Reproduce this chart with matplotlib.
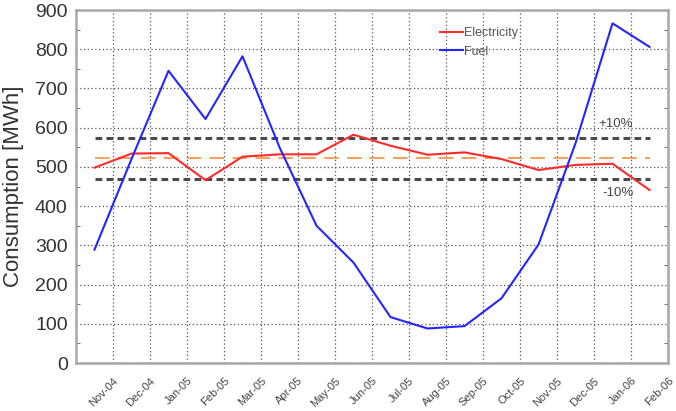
import numpy as np
import matplotlib
matplotlib.use("Agg")
import matplotlib.pyplot as plt
from matplotlib.ticker import MultipleLocator

plt.rcParams['font.family'] = ['Liberation Sans', 'DejaVu Sans']

months = ["Nov-04", "Dec-04", "Jan-05", "Feb-05", "Mar-05", "Apr-05", "May-05", "Jun-05",
          "Jul-05", "Aug-05", "Sep-05", "Oct-05", "Nov-05", "Dec-05", "Jan-06", "Feb-06"]
electricity = [498, 534, 535, 466, 526, 532, 532, 582, 554, 531, 537, 520, 492, 505, 508, 441]
fuel = [289, 520, 745, 622, 782, 550, 350, 256, 117, 88, 94, 165, 302, 560, 866, 806]
avg = 522  # mean line

x = np.arange(len(months))

fig = plt.figure(figsize=(6.76, 4.11), dpi=100)
ax = fig.add_axes([76/676, 1 - 363/411, 592/676, 353/411])

ax.plot(x, [avg * 1.1] * len(x), color="#4a4a4a", lw=2.2, ls=(0, (2.2, 1.4)))
ax.plot(x, [avg * 0.9] * len(x), color="#4a4a4a", lw=2.2, ls=(0, (2.2, 1.4)))
ax.plot(x, [avg] * len(x), color="#f4a262", lw=1.5, ls=(0, (7, 4)))
l1, = ax.plot(x, electricity, color="#ff2a2a", lw=1.5, label="Electricity")
l2, = ax.plot(x, fuel, color="#2525ff", lw=1.5, label="Fuel")

ax.text(14.08, 609, "+10%", fontsize=9.5, color="#444444", ha="center", va="center")
ax.text(14.16, 433, "-10%", fontsize=9.5, color="#444444", ha="center", va="center")

ax.set_xlim(-0.5, 15.5)
ax.set_ylim(0, 900)
ax.set_xticks(x + 0.5)
ax.set_xticklabels(months, rotation=45, ha="right", va="top", rotation_mode="anchor",
                   fontsize=8, color="#444444")
ax.yaxis.set_major_locator(MultipleLocator(100))
ax.yaxis.set_minor_locator(MultipleLocator(50))
ax.tick_params(axis="x", length=0, pad=9)
ax.tick_params(axis="y", which="major", length=0, labelsize=14, labelcolor="#333333", pad=6)
ax.tick_params(axis="y", which="minor", length=3, direction="in", left=True, right=True,
               color="#555555")
ax.grid(True, which="major", color="#555555", ls=(0, (1, 2)), lw=0.9)

for s in ax.spines.values():
    s.set_color("#a8a8a8")
    s.set_linewidth(1.8)

ax.set_ylabel("Consumption [MWh]", fontsize=16, color="#333333")
ax.yaxis.set_label_coords(-0.088, 0.5)

leg = ax.legend(handles=[l1, l2], loc="upper left", bbox_to_anchor=(0.615, 0.952),
                frameon=False, fontsize=9, handlelength=1.85, handletextpad=0.05,
                labelspacing=0.55, borderpad=0, borderaxespad=0)
for t in leg.get_texts():
    t.set_color("#555555")

fig.savefig("out.png", dpi=100)
